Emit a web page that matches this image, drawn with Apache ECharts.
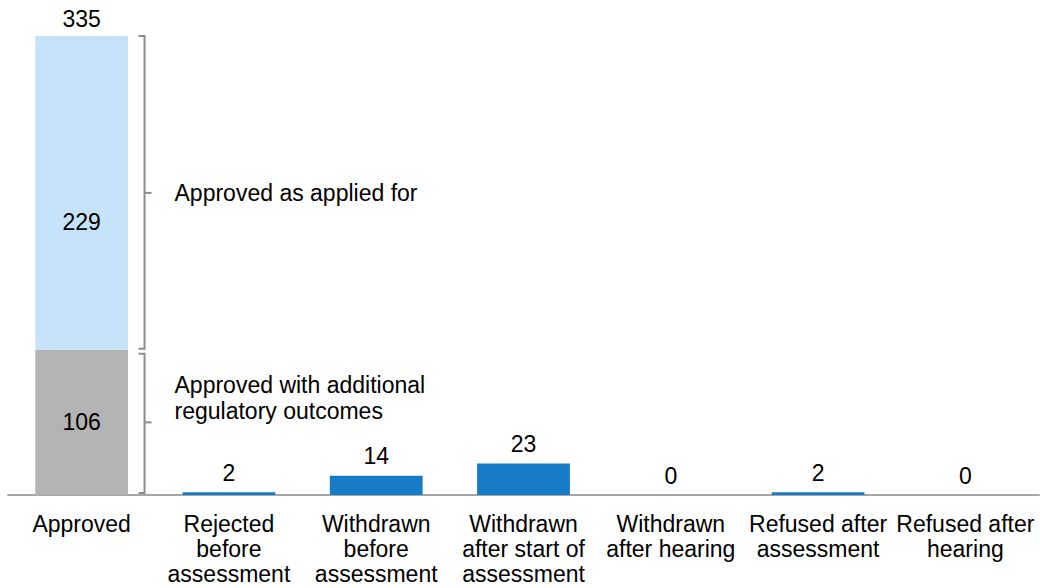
<!DOCTYPE html>
<html>
<head>
<meta charset="utf-8">
<script src="https://cdn.jsdelivr.net/npm/echarts@6/dist/echarts.min.js"></script>
<style>html,body{margin:0;padding:0;background:#fff}#c{width:1040px;height:588px}</style>
</head>
<body>
<div id="c"></div>
<script>
const categories = ['Approved', 'Rejected\nbefore\nassessment', 'Withdrawn\nbefore\nassessment', 'Withdrawn\nafter start of\nassessment', 'Withdrawn\nafter hearing', 'Refused after\nassessment', 'Refused after\nhearing'];
const approvedAdditional = [106, '-', '-', '-', '-', '-', '-'];
const approvedAsApplied = [229, '-', '-', '-', '-', '-', '-'];
const otherOutcomes = ['-', 2, 14, 23, 0, 2, 0];
const bracketLabels = ['Approved with additional\nregulatory outcomes', 'Approved as applied for'];

const approvedTotal = approvedAdditional[0] + approvedAsApplied[0];
const FONT = 'Liberation Sans, Arial, sans-serif';
const FS = 23;
const BAR_PCT = 0.63;

const bracketData = [
  [0, 0, approvedAdditional[0]],
  [0, approvedAdditional[0], approvedTotal]
];

const chart = echarts.init(document.getElementById('c'), null, {renderer: 'svg'});
chart.setOption({
  animation: false,
  grid: {left: 8, right: 1, top: 36, bottom: 93},
  xAxis: {
    type: 'category',
    data: categories,
    axisLine: {lineStyle: {color: '#a6a6a6', width: 2}},
    axisTick: {lineStyle: {color: '#a6a6a6', width: 2}, length: 7},
    axisLabel: {color: '#000', fontSize: FS, fontFamily: FONT, lineHeight: 25, margin: 16, interval: 0}
  },
  yAxis: {type: 'value', min: 0, max: approvedTotal, show: false, splitLine: {show: false}},
  series: [
    {
      type: 'bar', stack: 'a', barWidth: (BAR_PCT * 100) + '%',
      data: approvedAdditional,
      itemStyle: {color: '#b3b3b3'},
      label: {show: true, position: 'inside', color: '#000', fontSize: FS, fontFamily: FONT}
    },
    {
      type: 'bar', stack: 'a',
      data: approvedAsApplied,
      itemStyle: {color: '#c5e3f8'},
      label: {show: true, position: 'inside', offset: [0, 29], color: '#000', fontSize: FS, fontFamily: FONT}
    },
    {
      type: 'bar', stack: 'a',
      data: otherOutcomes,
      itemStyle: {color: '#167cc7'},
      label: {show: true, position: 'top', distance: 8, color: '#000', fontSize: FS, fontFamily: FONT}
    },
    {
      type: 'bar', stack: 'a',
      data: [0, '-', '-', '-', '-', '-', '-'],
      itemStyle: {color: 'rgba(0,0,0,0)'},
      label: {show: true, position: 'top', distance: 6, color: '#000', fontSize: FS, fontFamily: FONT,
        formatter: () => String(approvedTotal)}
    },
    {
      type: 'custom',
      data: bracketData,
      encode: {x: 0, y: [1, 2]},
      renderItem: function (params, api) {
        const cat = api.value(0), lo = api.value(1), hi = api.value(2);
        const text = bracketLabels[params.dataIndex];
        const pLo = api.coord([cat, lo]);
        const pHi = api.coord([cat, hi]);
        const bw = api.size([1, 0])[0] * BAR_PCT;
        const x = pLo[0] + bw / 2 + 16.5;
        const yTop = pHi[1] + (params.dataIndex === 0 ? 4 : 0);
        const yb = params.dataIndex === 1 ? pLo[1] - 1 : pLo[1] - 2;
        const mid = (pLo[1] + pHi[1]) / 2;
        const style = {stroke: '#8c8c8c', lineWidth: 2, fill: 'none'};
        return {
          type: 'group',
          children: [
            {type: 'polyline', shape: {points: [[x - 6, yTop], [x, yTop], [x, yb], [x - 6, yb]]}, style: style},
            {type: 'line', shape: {x1: x, y1: mid, x2: x + 7, y2: mid}, style: style},
            {type: 'text', style: {text: text, x: x + 30, y: params.dataIndex === 0 ? mid - 24 : mid,
              verticalAlign: 'middle', align: 'left', fill: '#000', fontSize: FS, fontFamily: FONT, lineHeight: 26}}
          ]
        };
      }
    }
  ]
});
</script>
</body>
</html>
